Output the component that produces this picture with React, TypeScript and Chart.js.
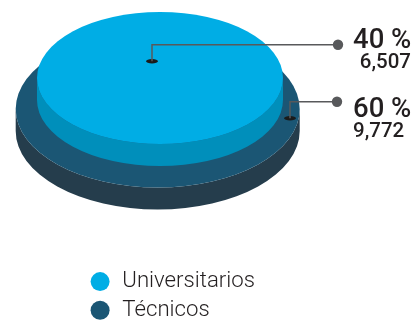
import React, { useEffect, useRef } from "react";
import { Chart, registerables } from "chart.js";

Chart.register(...registerables);

const categories = ["Universitarios", "Técnicos"];
const percentages = [40, 60];
const totals = [6507, 9772];

const W = 415;
const H = 320;
const TEXT = "#231f20";
const LEAD = "#58595b";
const colors = ["#00ade5", "#1b5674"];
const sideColors = ["#008fbb", "#253d4c"];
const centers = [{ cx: 160, cy: 78 }, { cx: 157.7, cy: 109 }];
const DEPTH = 22;
const leaders = [
  { mx: 152, my: 61.3, ly: 44.7, ex: 338, tx: 353, base: 48, sub: 67.5, subX: 411, subAlign: "right" },
  { mx: 290, my: 118.3, ly: 101.7, ex: 337, tx: 353, base: 117, sub: 137, subX: 353, subAlign: "left" },
];

const discs = {
  id: "discs",
  beforeDatasetsDraw(chart: any) {
    const { ctx, scales } = chart;
    const { x, y } = scales;
    const meta = chart.data.datasets[0].data as { x: number; y: number }[];
    ctx.save();
    [1, 0].forEach((i) => {
      const rx = x.getPixelForValue(meta[i].x);
      const ry = y.getPixelForValue(meta[i].y);
      const { cx, cy } = centers[i];
      ctx.fillStyle = sideColors[i];
      ctx.beginPath();
      ctx.ellipse(cx, cy, rx, ry, 0, Math.PI, 0, true);
      ctx.lineTo(cx + rx, cy + DEPTH);
      ctx.ellipse(cx, cy + DEPTH, rx, ry, 0, 0, Math.PI, false);
      ctx.closePath();
      ctx.fill();
      ctx.fillStyle = colors[i];
      ctx.beginPath();
      ctx.ellipse(cx, cy, rx, ry, 0, 0, Math.PI * 2);
      ctx.fill();
    });
    leaders.forEach((l, i) => {
      ctx.fillStyle = "#1a1a1a";
      ctx.beginPath();
      ctx.ellipse(l.mx, l.my, 6, 2.2, 0, 0, Math.PI * 2);
      ctx.fill();
      ctx.strokeStyle = LEAD;
      ctx.lineWidth = 1.5;
      ctx.beginPath();
      ctx.moveTo(l.mx, l.my);
      ctx.lineTo(l.mx, l.ly);
      ctx.lineTo(l.ex, l.ly);
      ctx.stroke();
      ctx.fillStyle = LEAD;
      ctx.beginPath();
      ctx.arc(l.ex, l.ly, 5.2, 0, Math.PI * 2);
      ctx.fill();
      ctx.fillStyle = TEXT;
      ctx.textBaseline = "alphabetic";
      ctx.textAlign = "left";
      ctx.font = "500 27.5px Roboto";
      ctx.fillText(`${percentages[i]} %`, l.tx, l.base);
      ctx.font = "500 20.5px Roboto";
      ctx.textAlign = l.subAlign;
      ctx.fillText(totals[i].toLocaleString("en-US"), l.subX, l.sub);
    });
    ctx.restore();
  },
};

const placeLegend = {
  id: "placeLegend",
  afterLayout(chart: any) {
    chart.legend.left = 82.5;
    chart.legend.top = 264;
    chart.legend.bottom = H + 100;
    chart.legend.right = W;
  },
};

export default function App() {
  const ref = useRef<HTMLCanvasElement>(null);
  useEffect(() => {
    const chart = new Chart(ref.current!, {
      type: "scatter",
      data: {
        labels: categories,
        datasets: [
          {
            label: "Discos",
            data: totals.map((v, i) => ({ x: v, y: percentages[i] })),
            pointRadius: 0,
          },
        ],
      },
      options: {
        responsive: false,
        animation: false,
        layout: { padding: 0 },
        scales: {
          x: { display: false, min: -14627, max: 56679 },
          y: { display: false, reverse: true, min: -65.6, max: 446.4 },
        },
        plugins: {
          tooltip: { enabled: false },
          legend: {
            position: "chartArea",
            align: "start",
            labels: {
              usePointStyle: true,
              boxHeight: 13.4,
              padding: 6.5,
              color: TEXT,
              font: { family: "Roboto", weight: "300", size: 22.2 },
              generateLabels: () =>
                categories.map((c, i) => ({
                  text: c,
                  fillStyle: colors[i],
                  strokeStyle: colors[i],
                  lineWidth: 0,
                  pointStyle: "circle",
                  fontColor: TEXT,
                })),
            },
          },
        },
      } as any,
      plugins: [discs, placeLegend],
    });
    return () => chart.destroy();
  }, []);
  return (
    <div style={{ position: "fixed", left: 0, top: 0, width: W, height: H }}>
      <canvas ref={ref} width={W} height={H} style={{ display: "block" }} />
    </div>
  );
}
